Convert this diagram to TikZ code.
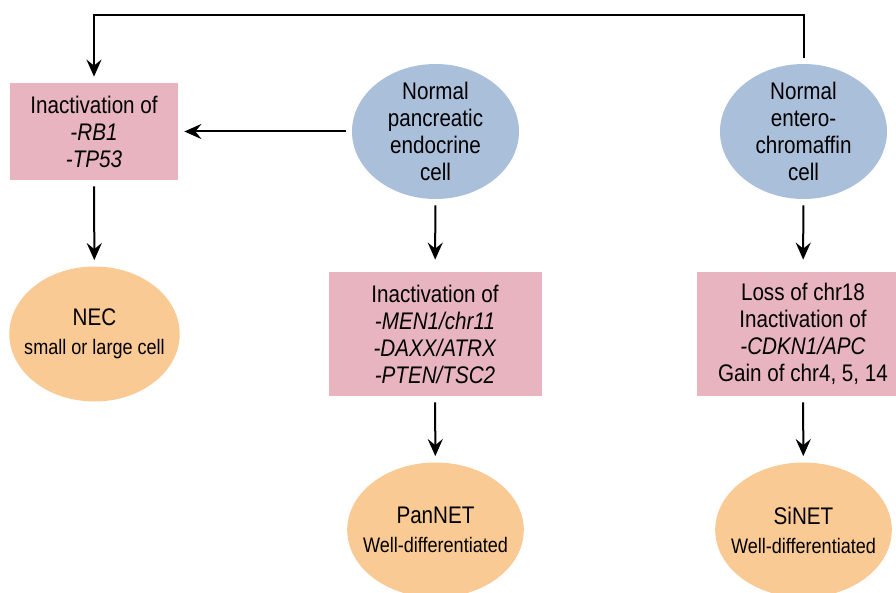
\documentclass[tikz,border=0pt]{standalone}
\usepackage{fontspec}
\setmainfont{Liberation Sans}[FakeStretch=0.86]
\usepackage{tikz}
\usetikzlibrary{shapes,arrows.meta,positioning}
\definecolor{genepink}{RGB}{232,180,192}
\definecolor{cellblue}{RGB}{170,191,218}
\definecolor{tumorange}{RGB}{250,202,148}
\tikzstyle{gbox} = [rectangle, fill=genepink, align=center, inner sep=0pt, minimum width=106.5pt, minimum height=62pt, font=\fontsize{12}{13.5}\selectfont]
\tikzstyle{ncell} = [ellipse, fill=cellblue, align=center, inner sep=-5pt, minimum width=83.5pt, minimum height=67.5pt, font=\fontsize{12}{13.5}\selectfont]
\tikzstyle{tnode} = [ellipse, fill=tumorange, align=center, inner sep=-5pt, minimum width=83.5pt, minimum height=67.5pt, font=\fontsize{12}{13.5}\selectfont]
\tikzstyle{line} = [draw, line width=1pt, -{Stealth[length=8.5pt, width=7.5pt, inset=3pt]}, shorten <=3pt, shorten >=3pt]
\newcommand{\smalltxt}[1]{{\fontsize{10.5}{12}\selectfont #1}}

\begin{document}
\begin{tikzpicture}[x=0.5pt, y=-0.5pt]
			\useasboundingbox (0,0) rectangle (896,593);
			\node [ncell] (pancell) at (435.5, 131.5) {Normal\\pancreatic\\endocrine\\cell};
			\node [ncell] (entcell) at (803.5, 131.5) {Normal\\entero-\\chromaffin\\cell};
			\node [gbox, minimum width=84pt, minimum height=48.5pt] (rbbox) at (94, 131.5) {Inactivation of\\\textit{-RB1}\\\textit{-TP53}};
			\node [gbox] (menbox) at (435, 334) {Inactivation of\\\textit{-MEN1/chr11}\\\textit{-DAXX/ATRX}\\\textit{-PTEN/TSC2}};
			\node [gbox] (chrbox) at (803, 334) {Loss of chr18\\Inactivation of\\\textit{-CDKN1/APC}\\Gain of chr4, 5, 14};
			\node [tnode] (nec) at (94.5, 334) {NEC\\[1pt]\smalltxt{small or large cell}};
			\node [tnode] (pannet) at (435.5, 530) {PanNET\\[1pt]\smalltxt{Well-differentiated}};
			\node [tnode] (sinet) at (803.5, 530) {SiNET\\[1pt]\smalltxt{Well-differentiated}};
			\coordinate (toprow) at (0, 15);

			\path [line] (entcell.north) -- (entcell.north |- toprow) -| (rbbox.north);
			\path [line] (pancell) -- (rbbox);
			\path [line] (rbbox) -- (nec);
			\path [line, shorten >=6pt] (pancell) -- (menbox);
			\path [line, shorten >=6pt] (entcell) -- (chrbox);
			\path [line] (menbox) -- (pannet);
			\path [line] (chrbox) -- (sinet);
		\end{tikzpicture}
\end{document}
